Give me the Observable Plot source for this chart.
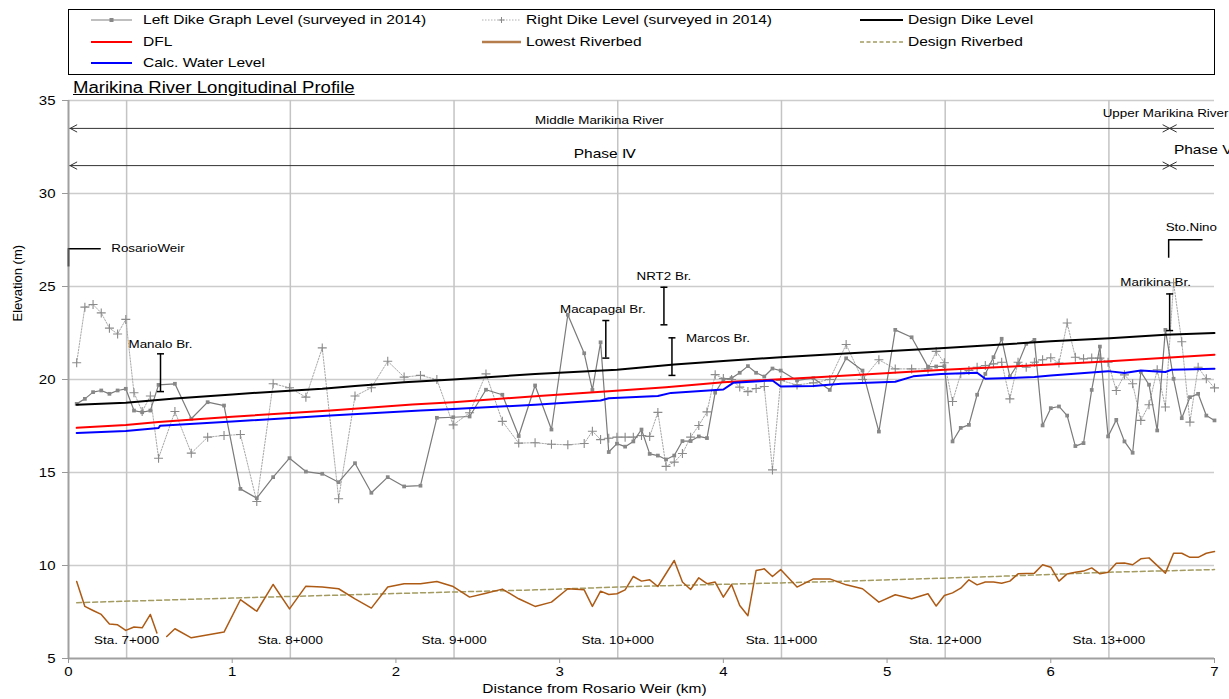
<!DOCTYPE html>
<html><head><meta charset="utf-8">
<script src="https://cdn.jsdelivr.net/npm/d3@7"></script>
<script src="https://cdn.jsdelivr.net/npm/@observablehq/plot@0.6"></script>
<style>
html,body{margin:0;padding:0;background:#fff}
body{width:1229px;height:699px;position:relative;overflow:hidden;font-family:"Liberation Sans",Arial,sans-serif;color:#000}
#legend{position:absolute;left:68px;top:9px;width:1147px;height:66px;border:1px solid #000;box-sizing:border-box}
.lt{position:absolute;font-size:13.5px;line-height:18px;white-space:nowrap;transform:scaleX(1.15);transform-origin:0 50%}
.ls{position:absolute}
#title{position:absolute;left:73px;top:78px;font-size:16px;line-height:20px;text-decoration:underline;white-space:nowrap;transform:scaleX(1.16);transform-origin:0 50%}
#chart{position:absolute;left:0;top:88px}
</style></head><body>
<div id="legend"></div>
<div id="title">Marikina River Longitudinal Profile</div>
<div id="chart"></div>
<script>
// ---------- DATA ----------
const leftKm = [0.05,0.10,0.15,0.20,0.25,0.30,0.35,0.40,0.45,0.50,0.55,0.65,0.75,0.85,0.95,1.05,1.15,1.25,1.35,1.45,1.55,1.65,1.75,1.85,1.95,2.05,2.15,2.25,2.35,2.45,2.55,2.65,2.75,2.85,2.95,3.05,3.15,3.20,3.25,3.30,3.35,3.40,3.45,3.50,3.55,3.60,3.65,3.70,3.75,3.80,3.85,3.90,3.95,4.00,4.05,4.10,4.15,4.20,4.25,4.30,4.35,4.45,4.55,4.65,4.75,4.85,4.95,5.05,5.15,5.25,5.30,5.35,5.40,5.45,5.50,5.55,5.60,5.65,5.70,5.75,5.80,5.85,5.90,5.95,6.00,6.05,6.10,6.15,6.20,6.25,6.30,6.35,6.40,6.45,6.50,6.55,6.60,6.65,6.70,6.75,6.80,6.85,6.90,6.95,7.00];
const leftElev = [18.69,18.96,19.32,19.41,19.23,19.41,19.50,18.33,18.24,18.33,19.71,19.77,17.89,18.78,18.60,14.12,13.62,14.75,15.77,15.05,14.93,14.48,15.50,13.91,14.75,14.25,14.29,17.94,17.97,18.01,19.45,19.18,16.96,19.68,17.31,23.48,21.41,19.44,22.00,16.10,16.55,16.39,16.67,17.31,16.00,15.91,15.70,15.91,16.69,16.69,16.94,16.85,19.29,20.00,20.07,20.36,20.72,20.36,20.16,20.59,20.48,19.95,20.07,19.44,21.14,20.48,17.20,22.67,22.27,20.68,20.70,20.72,16.67,17.40,17.56,19.18,20.30,21.20,22.19,20.16,20.84,21.92,22.13,17.53,18.46,18.55,18.06,16.42,16.58,19.44,21.77,16.94,17.83,16.67,16.06,20.41,19.72,17.26,22.67,20.04,17.92,19.05,19.23,18.06,17.80];

const rightKm = [0.05,0.10,0.15,0.20,0.25,0.30,0.35,0.40,0.45,0.50,0.55,0.65,0.75,0.85,0.95,1.05,1.15,1.25,1.35,1.45,1.55,1.65,1.75,1.85,1.95,2.05,2.15,2.25,2.35,2.45,2.55,2.65,2.75,2.85,2.95,3.05,3.15,3.20,3.25,3.30,3.35,3.40,3.45,3.50,3.55,3.60,3.65,3.70,3.75,3.80,3.85,3.90,3.95,4.00,4.05,4.10,4.15,4.20,4.25,4.30,4.35,4.45,4.55,4.65,4.75,4.85,4.95,5.05,5.15,5.25,5.30,5.35,5.40,5.45,5.50,5.55,5.60,5.65,5.70,5.75,5.80,5.85,5.90,5.95,6.00,6.05,6.10,6.15,6.20,6.25,6.30,6.35,6.40,6.45,6.50,6.55,6.60,6.65,6.70,6.75,6.80,6.85,6.90,6.95,7.00];
const rightElev = [20.90,23.89,24.03,23.58,22.76,22.45,23.23,19.29,18.28,19.11,15.77,18.28,16.04,16.90,16.99,17.04,13.44,19.77,19.56,19.05,21.70,13.59,19.11,19.56,20.98,20.13,20.22,20.00,17.56,18.21,20.30,17.75,16.58,16.60,16.52,16.49,16.56,17.22,16.77,16.84,16.90,16.90,16.90,16.99,16.94,18.23,15.33,15.56,16.02,16.90,17.53,18.26,20.26,20.05,20.00,19.59,19.35,19.52,19.62,15.14,19.95,19.71,19.82,20.00,21.88,20.00,21.06,20.57,20.57,20.57,21.51,20.90,18.82,20.31,20.48,20.66,20.75,20.84,20.93,18.96,20.93,20.66,20.93,21.06,21.17,20.88,23.04,21.20,21.11,21.15,21.15,20.93,19.41,20.25,19.77,17.80,18.64,20.52,18.52,25.20,22.03,17.71,20.66,20.04,19.55];

const dikeKm   = [0.05,0.35,0.65,1.00,1.35,1.55,1.75,2.05,2.35,2.85,3.35,3.70,4.00,4.35,4.72,5.35,5.70,6.00,6.36,6.70,7.00];
const dikeElev = [18.64,18.75,18.98,19.20,19.40,19.50,19.65,19.85,20.00,20.30,20.52,20.80,21.00,21.20,21.38,21.70,21.88,22.05,22.22,22.40,22.50];

const dflKm   = [0.05,0.35,0.55,1.00,1.60,2.10,2.35,2.85,3.30,3.65,4.00,4.60,5.35,6.00,6.36,7.00];
const dflElev = [17.40,17.56,17.72,18.00,18.33,18.66,18.78,19.10,19.37,19.58,19.85,20.14,20.52,20.80,20.98,21.33];

const calcKm   = [0.05,0.35,0.55,0.56,1.00,1.60,2.15,2.35,2.85,3.25,3.30,3.60,3.68,4.00,4.06,4.30,4.35,4.55,4.72,5.05,5.16,5.33,5.55,5.60,5.90,6.00,6.35,6.45,6.55,6.70,6.74,7.00];
const calcElev = [17.12,17.23,17.39,17.52,17.74,18.06,18.33,18.42,18.64,18.87,18.99,19.11,19.28,19.46,19.82,19.95,19.62,19.65,19.77,19.88,20.17,20.29,20.36,20.04,20.13,20.22,20.45,20.35,20.48,20.40,20.53,20.58];

const bedKm   = [0.05,0.10,0.15,0.20,0.25,0.30,0.35,0.40,0.45,0.50,0.54,0.57,0.60,0.65,0.75,0.95,1.05,1.15,1.25,1.35,1.45,1.55,1.65,1.75,1.85,1.95,2.05,2.15,2.25,2.35,2.45,2.55,2.65,2.75,2.85,2.95,3.05,3.15,3.20,3.25,3.30,3.35,3.40,3.45,3.50,3.55,3.60,3.70,3.75,3.80,3.85,3.90,3.95,4.00,4.05,4.10,4.15,4.20,4.25,4.30,4.35,4.45,4.55,4.65,4.75,4.85,4.95,5.05,5.15,5.25,5.30,5.35,5.40,5.45,5.50,5.55,5.60,5.65,5.70,5.75,5.80,5.90,5.95,6.00,6.05,6.10,6.15,6.20,6.25,6.30,6.35,6.40,6.45,6.50,6.55,6.60,6.70,6.75,6.80,6.85,6.90,6.95,7.00];
const bedElev = [9.14,7.80,7.58,7.37,6.86,6.81,6.51,6.69,6.65,7.37,6.37,NaN,6.18,6.60,6.11,6.42,8.16,7.54,8.98,7.67,8.89,8.84,8.75,8.21,7.71,8.84,9.02,9.02,9.14,8.87,8.30,8.51,8.73,8.21,7.80,8.03,8.75,8.69,7.80,8.62,8.44,8.48,8.69,9.41,9.16,9.23,8.87,10.27,9.11,8.71,9.34,9.02,9.11,8.30,8.98,7.85,7.30,9.73,9.82,9.41,9.78,8.84,9.28,9.28,8.96,8.75,8.03,8.43,8.21,8.48,7.82,8.39,8.53,8.78,9.23,8.96,9.11,9.11,9.05,9.16,9.55,9.59,10.04,9.91,9.16,9.55,9.64,9.70,9.87,9.55,9.64,10.12,10.14,10.04,10.36,10.41,9.59,10.66,10.66,10.44,10.44,10.66,10.75];

const designBedKm   = [0.05,1.00,2.15,2.85,3.45,4.60,5.35,5.95,6.36,7.00];
const designBedElev = [8.00,8.25,8.53,8.69,8.87,9.12,9.32,9.50,9.64,9.78];

const stationKm     = [0.355,1.355,2.355,3.355,4.355,5.355,6.355];
const stationLabels = ["Sta. 7+000","Sta. 8+000","Sta. 9+000","Sta. 10+000","Sta. 11+000","Sta. 12+000","Sta. 13+000"];

const kmTicks   = [0,1,2,3,4,5,6,7];
const elevTicks = [5,10,15,20,25,30,35];

const bridgeNames  = ["Manalo Br.","Macapagal Br.","NRT2 Br.","Marcos Br.","Marikina Br."];
const bridgeKm     = [0.562,3.282,3.637,3.686,6.726];
const bridgeTop    = [21.38,23.17,24.96,22.24,24.60];
const bridgeBottom = [19.35,21.15,22.94,20.22,22.63];

const headerLineElev = [33.5,31.5];
const sectionBoundaryKm = 6.726;
const headerTexts = ["Middle Marikina River","Phase Ⅳ","Upper Marikina River","Phase V"];
const headerKm    = [3.243,3.279,6.317,6.752];
const headerElev  = [33.96,32.14,34.29,32.35];

const weir = {name:"RosarioWeir", km:0, end:0.2, elev:27.03, base:26.05};
const stoNino = {name:"Sto.Nino", km:6.72, end:6.93, top:27.51, bottom:26.52};

const seriesNames = ["Left Dike Graph Level (surveyed in 2014)","Right Dike Level (surveyed in 2014)","Design Dike Level","DFL","Lowest Riverbed","Design Riverbed","Calc. Water Level"];

// ---------- TABLES ----------
const zip = (ks, vs) => ks.map((k,i)=>({km:k, elev:vs[i]}));
const left = zip(leftKm,leftElev), right = zip(rightKm,rightElev);
const dike = zip(dikeKm,dikeElev), dfl = zip(dflKm,dflElev), calc = zip(calcKm,calcElev);
const bed = zip(bedKm,bedElev), dbed = zip(designBedKm,designBedElev);
const bridges = bridgeNames.map((n,i)=>({name:n, km:bridgeKm[i], top:bridgeTop[i], bottom:bridgeBottom[i]}));
const headers = headerTexts.map((t,i)=>({text:t, km:headerKm[i], elev:headerElev[i]}));
const stations = stationKm.map((k,i)=>({km:k, label:stationLabels[i]}));

// ---------- LEGEND (HTML) ----------
const legendStyles = [
  {col:0,row:0,stroke:"#808080",w:1.2,dash:null,marker:"dot"},
  {col:1,row:0,stroke:"#b0b0b0",w:1,dash:"1.5,1.5",marker:"plus"},
  {col:2,row:0,stroke:"#000",w:2,dash:null},
  {col:0,row:1,stroke:"#ff0000",w:2,dash:null},
  {col:1,row:1,stroke:"#b57c4c",w:2.5,dash:null},
  {col:2,row:1,stroke:"#a39b62",w:1.5,dash:"4,2.5"},
  {col:0,row:2,stroke:"#0000ff",w:2,dash:null}
];
const cols = [[91,41,143],[482,39,526],[860,43,908]];
const rows = [20,42,63];
let html = "";
legendStyles.forEach((s,i)=>{
  const [lx,lw,tx] = cols[s.col], cy = rows[s.row];
  const m = lw/2;
  let mk = "";
  if (s.marker==="dot") mk = `<rect x="${m-2}" y="3" width="4" height="4" fill="#888"/>`;
  if (s.marker==="plus") mk = `<path d="M${m},2V8M${m-3},5H${m+3}" stroke="#888" stroke-width="1"/>`;
  html += `<svg class="ls" style="left:${lx}px;top:${cy-5}px" width="${lw}" height="10"><line x1="0" x2="${lw}" y1="5" y2="5" stroke="${s.stroke}" stroke-width="${s.w}" ${s.dash?`stroke-dasharray="${s.dash}"`:""}/>${mk}</svg>`;
  html += `<div class="lt" style="left:${tx}px;top:${cy-9}px">${seriesNames[i]}</div>`;
});
document.body.insertAdjacentHTML("beforeend", html);

// ---------- CUSTOM SYMBOLS ----------
const capSym = {draw(ctx){ ctx.moveTo(-3.5,0); ctx.lineTo(3.5,0); }};
const chevLeft = {draw(ctx){ ctx.moveTo(7,-3.7); ctx.lineTo(0,0); ctx.lineTo(7,3.7); }};
const chevBoth = {draw(ctx){ ctx.moveTo(-7,-3.7); ctx.lineTo(0,0); ctx.lineTo(-7,3.7); ctx.moveTo(7,-3.7); ctx.lineTo(0,0); ctx.lineTo(7,3.7); }};

const labelOffsets = {"Manalo Br.":[0,-10],"Macapagal Br.":[-3,-11],"NRT2 Br.":[0,-11],"Marikina Br.":[-14,-12]};
const SX = 1.15;           // horizontal stretch of the original chart's lettering
const F = 13.4 / SX;

const chart = Plot.plot({
  width: 1229, height: 611,
  marginTop: 12, marginBottom: 41, marginLeft: 68, marginRight: 15,
  style: {fontFamily: '"Liberation Sans", Arial, sans-serif', fontSize: "13px", color: "#000", background: "transparent"},
  x: {domain: [0,7]},
  y: {domain: [5,35]},
  marks: [
    Plot.ruleY(elevTicks.filter(d=>d>5), {stroke:"#cccccc", strokeWidth:1.5}),
    Plot.ruleX(stationKm, {stroke:"#c4c4c4", strokeWidth:1.5}),
    Plot.ruleY(headerLineElev, {stroke:"#333", strokeWidth:1}),
    Plot.dot(headerLineElev, {x: () => 0.01, y: d=>d, symbol: chevLeft, fill:"none", stroke:"#333", strokeWidth:1}),
    Plot.dot(headerLineElev, {x: () => sectionBoundaryKm, y: d=>d, symbol: chevBoth, fill:"none", stroke:"#333", strokeWidth:1}),
    Plot.text(headers.slice(0,1), {x:"km", y:"elev", text:"text", fontSize:F}),
    Plot.text(headers.slice(1,2), {x:"km", y:"elev", text:"text", fontSize:15.5/SX}),
    Plot.text(headers.slice(2,3), {x:"km", y:"elev", text:"text", fontSize:F, textAnchor:"start"}),
    Plot.text(headers.slice(3,4), {x:"km", y:"elev", text:"text", fontSize:15.5/SX, textAnchor:"start"}),
    Plot.ruleX([0], {stroke:"#a0a0a0", strokeWidth:2}),
    Plot.ruleY([5], {stroke:"#a0a0a0", strokeWidth:2}),
    Plot.axisX({ticks: kmTicks, tickSize:5, tickPadding:3, fontSize:15/SX, stroke:"#999", tickFormat: d=>String(d)}),
    Plot.axisY({ticks: elevTicks, tickSize:6, tickPadding:7, fontSize:15/SX, stroke:"#999", label:null}),
    Plot.text(["Distance from Rosario Weir (km)"], {frameAnchor:"bottom", dx:-47, dy:34, fontSize:15.5/SX}),
    Plot.text(["Elevation (m)"], {frameAnchor:"left", rotate:-90, dx:-51, dy:-58, fontSize:13}),
    Plot.text(stations, {x:"km", text:"label", frameAnchor:"bottom", dy:-15, fontSize:F}),
    // series
    Plot.line(dbed, {x:"km", y:"elev", stroke:"#a39b62", strokeWidth:1.5, strokeDasharray:"5,3"}),
    Plot.line(bed, {x:"km", y:"elev", stroke:"#ad5a14", strokeWidth:1.5}),
    Plot.line(right, {x:"km", y:"elev", stroke:"#a8a8a8", strokeWidth:1, strokeDasharray:"1.5,1.5"}),
    Plot.dot(right, {x:"km", y:"elev", symbol:"plus", r:3, stroke:"#8a8a8a", strokeWidth:1.1}),
    Plot.line(left, {x:"km", y:"elev", stroke:"#7a7a7a", strokeWidth:1.2}),
    Plot.dot(left, {x:"km", y:"elev", symbol:"square", r:2.1, fill:"#888", stroke:"none"}),
    Plot.line(dike, {x:"km", y:"elev", stroke:"#000", strokeWidth:2}),
    Plot.line(dfl, {x:"km", y:"elev", stroke:"#ff0000", strokeWidth:2}),
    Plot.line(calc, {x:"km", y:"elev", stroke:"#0000ff", strokeWidth:2}),
    // bridges
    Plot.ruleX(bridges, {x:"km", y1:"bottom", y2:"top", stroke:"#000", strokeWidth:1.5}),
    Plot.dot(bridges, {x:"km", y:"top", symbol:capSym, fill:"none", stroke:"#000", strokeWidth:1.5}),
    Plot.dot(bridges, {x:"km", y:"bottom", symbol:capSym, fill:"none", stroke:"#000", strokeWidth:1.5}),
    ...bridges.filter(b=>labelOffsets[b.name]).map(b => Plot.text([b], {x:"km", y:"top", text:"name", dx:labelOffsets[b.name][0], dy:labelOffsets[b.name][1], fontSize:F})),
    Plot.text(bridges.filter(b=>!labelOffsets[b.name]), {x:"km", y:"top", text:"name", dx:14, textAnchor:"start", fontSize:F}),
    // weir & Sto. Nino
    Plot.ruleY([weir], {y:"elev", x1:"km", x2:"end", stroke:"#000", strokeWidth:1.5}),
    Plot.ruleX([weir], {x:"km", y1:"base", y2:"elev", stroke:"#555", strokeWidth:2}),
    Plot.text([weir], {x:"end", y:"elev", text:"name", dx:10, textAnchor:"start", fontSize:F}),
    Plot.ruleX([stoNino], {x:"km", y1:"bottom", y2:"top", stroke:"#000", strokeWidth:1.5}),
    Plot.ruleY([stoNino], {y:"top", x1:"km", x2:"end", stroke:"#000", strokeWidth:1.5}),
    Plot.text([stoNino], {x:"km", y:"top", text:"name", dx:-3, dy:-13, textAnchor:"start", fontSize:F})
  ]
});
// stretch horizontal lettering like the original (scale about each text's anchor)
chart.querySelectorAll("text").forEach(t => {
  const tr = t.getAttribute("transform");
  if (tr && !tr.includes("rotate")) t.setAttribute("transform", tr + ` scale(${SX},1)`);
});
document.getElementById("chart").appendChild(chart);
</script>
</body></html>
